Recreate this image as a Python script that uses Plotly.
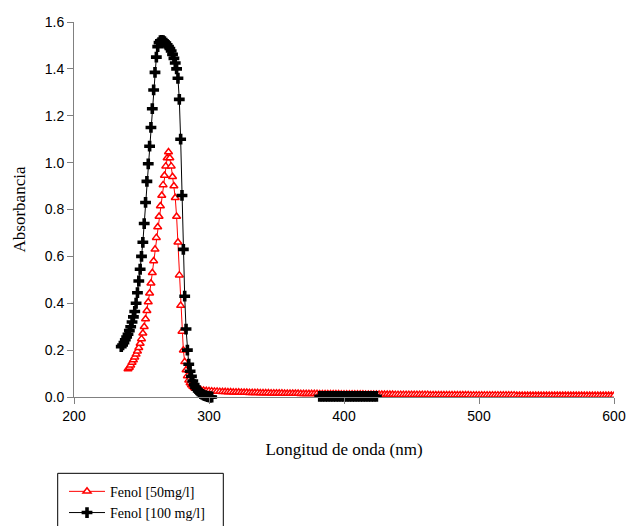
import plotly.graph_objects as go

# Fenol 50 mg/l
wl_50 = list(range(240, 291)) + list(range(292, 601, 2))
abs_50 = [
    0.120, 0.126, 0.136, 0.147, 0.158, 0.170, 0.182, 0.195, 0.210, 0.228,
    0.248, 0.272, 0.300, 0.333, 0.368, 0.405, 0.443, 0.485, 0.530, 0.580,
    0.630, 0.680, 0.725, 0.770, 0.815, 0.860, 0.905, 0.945, 0.985, 1.020,
    1.045, 1.020, 0.985, 0.940, 0.900, 0.850, 0.770, 0.660, 0.520, 0.390,
    0.280, 0.200, 0.150, 0.115, 0.090, 0.072, 0.060, 0.051, 0.045, 0.040,
    0.036,
    # tail, every 2 nm from 292
    0.032, 0.030, 0.028, 0.027, 0.026, 0.025, 0.024, 0.024, 0.023, 0.022,
    0.022, 0.021, 0.021, 0.020, 0.020, 0.020, 0.019, 0.019, 0.019, 0.018,
    0.018, 0.018, 0.018, 0.017, 0.017, 0.017, 0.017, 0.016, 0.016, 0.016,
    0.016, 0.016, 0.015, 0.015, 0.015, 0.015, 0.015, 0.015, 0.014, 0.014,
    0.014, 0.014, 0.014, 0.014, 0.014, 0.013, 0.013, 0.013, 0.013, 0.013,
    0.013, 0.013, 0.013, 0.012, 0.012, 0.012, 0.012, 0.012, 0.012, 0.012,
    0.012, 0.012, 0.011, 0.011, 0.011, 0.011, 0.011, 0.011, 0.011, 0.011,
    0.011, 0.011, 0.011, 0.010, 0.010, 0.010, 0.010, 0.010, 0.010, 0.010,
    0.010, 0.010, 0.010, 0.010, 0.010, 0.010, 0.009, 0.009, 0.009, 0.009,
    0.009, 0.009, 0.009, 0.009, 0.009, 0.009, 0.009, 0.009, 0.009, 0.009,
    0.009, 0.008, 0.008, 0.008, 0.008, 0.008, 0.008, 0.008, 0.008, 0.008,
    0.008, 0.008, 0.008, 0.008, 0.008, 0.008, 0.008, 0.008, 0.007, 0.007,
    0.007, 0.007, 0.007, 0.007, 0.007, 0.007, 0.007, 0.007, 0.007, 0.007,
    0.007, 0.007, 0.007, 0.007, 0.007, 0.007, 0.007, 0.007, 0.007, 0.007,
    0.007, 0.007, 0.007, 0.006, 0.006, 0.006, 0.006, 0.006, 0.006, 0.006,
    0.006, 0.006, 0.006, 0.006, 0.006,
]

# Fenol 100 mg/l (visible part above 0; gap where values fall below axis)
wl_100 = list(range(235, 303)) + [None] + list(range(382, 426, 2))
abs_100 = [
    0.215, 0.222, 0.232, 0.244, 0.256, 0.268, 0.283, 0.300, 0.320, 0.342,
    0.365, 0.400, 0.445, 0.495, 0.545, 0.600, 0.660, 0.740, 0.830, 0.920,
    0.995, 1.070, 1.150, 1.230, 1.310, 1.385, 1.450, 1.495, 1.512, 1.520,
    1.522, 1.520, 1.516, 1.510, 1.503, 1.495, 1.487, 1.476, 1.462, 1.445,
    1.425, 1.400, 1.360, 1.270, 1.100, 0.860, 0.630, 0.430, 0.290, 0.200,
    0.140, 0.110, 0.088, 0.068, 0.053, 0.042, 0.033, 0.026, 0.020, 0.015,
    0.011, 0.008, 0.006, 0.004, 0.002, 0.001, 0.000, 0.000,
    None,
    0.003, 0.003, 0.003, 0.003, 0.003, 0.003, 0.003, 0.003, 0.003, 0.003,
    0.003, 0.003, 0.003, 0.003, 0.003, 0.003, 0.003, 0.003, 0.003, 0.003,
    0.003, 0.003,
]

x_ticks = [200, 300, 400, 500, 600]
y_ticks = [0.0, 0.2, 0.4, 0.6, 0.8, 1.0, 1.2, 1.4, 1.6]

fig = go.Figure()
fig.add_trace(go.Scatter(
    x=wl_50, y=abs_50, mode="lines+markers", name="Fenol [50mg/l]",
    line=dict(color="#ff0000", width=1),
    marker=dict(symbol="triangle-up", size=7, color="white",
                line=dict(color="#ff0000", width=1.5)),
    connectgaps=False,
))
fig.add_trace(go.Scatter(
    x=wl_100, y=abs_100, mode="lines+markers", name="Fenol [100 mg/l]",
    line=dict(color="#000000", width=1),
    marker=dict(symbol="cross", size=9, color="black",
                line=dict(width=0)),
    connectgaps=False, cliponaxis=False,
))

# legend frame (extends past the bottom edge as in the original)
fig.add_shape(
    type="rect", xref="paper", yref="paper",
    x0=-0.0302, x1=0.2765, y0=-0.2035, y1=-0.40,
    line=dict(color="black", width=1), fillcolor="rgba(0,0,0,0)",
    layer="above",
)

fig.update_layout(
    width=626, height=526,
    margin=dict(l=74, r=12, t=22, b=129, autoexpand=False),
    paper_bgcolor="white", plot_bgcolor="white",
    showlegend=True,
    legend=dict(
        x=-0.0185, y=-0.2100, xanchor="left", yanchor="top",
        borderwidth=0, bgcolor="rgba(0,0,0,0)",
        font=dict(family="Liberation Serif", size=14, color="black"),
        tracegroupgap=0, itemwidth=36,
    ),
    xaxis=dict(
        range=[200, 600], tickvals=x_ticks, ticktext=[str(v) for v in x_ticks],
        showline=True, linecolor="#808080", linewidth=1,
        ticks="outside", ticklen=6, tickcolor="#808080",
        showgrid=False, zeroline=False, automargin=False,
        tickfont=dict(family="Liberation Sans", size=14, color="black"),
        title=dict(text="Longitud de onda (nm)", standoff=20,
                   font=dict(family="Liberation Serif", size=17, color="black")),
    ),
    yaxis=dict(
        range=[0, 1.6], tickvals=y_ticks, ticktext=[f"{v:.1f}" for v in y_ticks],
        showline=True, linecolor="#808080", linewidth=1,
        ticks="outside", ticklen=6, tickcolor="#808080",
        showgrid=False, zeroline=False, automargin=False,
        tickfont=dict(family="Liberation Sans", size=14, color="black"),
        title=dict(text="Absorbancia", standoff=14,
                   font=dict(family="Liberation Serif", size=17, color="black")),
    ),
)

fig.write_html("out.html")
